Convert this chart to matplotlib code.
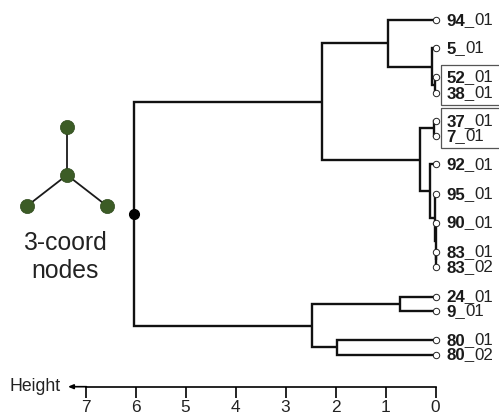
import matplotlib
matplotlib.use("Agg")
import matplotlib.pyplot as plt

plt.rcParams["font.family"] = ["Liberation Sans", "DejaVu Sans"]

# leaves, top to bottom: (bold part, regular part, row position)
leaf_ids = ["94", "5", "52", "38", "37", "7", "92", "95", "90", "83", "83", "24", "9", "80", "80"]
leaf_suffix = ["01", "01", "01", "01", "01", "01", "01", "01", "01", "01", "02", "01", "01", "01", "02"]
leaf_rows = [20, 48, 77.5, 93, 121, 136, 164.5, 194, 222.5, 252, 267, 296.5, 311, 340, 354.5]

# merges as (height, left child, right child), children are leaf indexes or merges
m_38 = (0.02, 2, 3)
m_5 = (0.08, 1, m_38)
m_94 = (0.95, 0, m_5)
m_37 = (0.03, 4, 5)
m_83 = (0.0, 9, 10)
m_90 = (0.0, 8, m_83)
m_95 = (0.02, 7, m_90)
m_92 = (0.12, 6, m_95)
m_b = (0.31, m_37, m_92)
m_top = (2.28, m_94, m_b)
m_24 = (0.71, 11, 12)
m_80 = (1.98, 13, 14)
m_bot = (2.47, m_24, m_80)
root = (6.04, m_top, m_bot)

root_dot_row = 214
height_ticks = [0, 1, 2, 3, 4, 5, 6, 7]

# small 3-coord motif, in pixels
node_x = [67, 67, 27, 107]
node_y = [175, 127, 206, 206]

W, H = 499, 415
fig = plt.figure(figsize=(W / 100, H / 100), dpi=100)

# overlay in pixel coordinates for motif and boxes
px = fig.add_axes([0, 0, 1, 1])
px.set_xlim(0, W)
px.set_ylim(H, 0)
px.axis("off")

ax = fig.add_axes([0, 0, 1, 1], facecolor="none")
ax.set_xlim(435.5 / 50, (435.5 - W) / 50)
ax.set_ylim(H, 0)


def draw(node):
    # returns height and row of a node, drawing the branches below it
    if isinstance(node, int):
        return 0.0, leaf_rows[node]
    h, a, b = node
    ha, ya = draw(a)
    hb, yb = draw(b)
    ax.plot([ha, h, h, hb], [ya, ya, yb, yb], color="#111111", lw=1.7,
            solid_joinstyle="miter", solid_capstyle="butt", zorder=2)
    return h, (ya + yb) / 2


h_root, y_root = draw(root)
ax.plot([0] * len(leaf_rows), leaf_rows, "o", ms=4.6, mfc="white", mec="#222222", mew=0.7, zorder=3)
ax.plot([h_root], [root_dot_row], "o", ms=7, color="black", zorder=3)

# leaf labels, bold id then plain suffix on the same baseline
renderer = fig.canvas.get_renderer()
for name, suffix, row in zip(leaf_ids, leaf_suffix, leaf_rows):
    t = ax.text(-0.22, row + 5, name + "_", fontsize=12.2, fontweight="bold", color="#1a1a1a",
                va="baseline", ha="left")
    wid = t.get_window_extent(renderer).width
    ax.annotate(suffix, xy=(-0.22, row + 5), xytext=(wid * 0.72, 0), textcoords="offset points",
                va="baseline", ha="left", fontsize=12.2, color="#222222")

# height axis
for s in ["top", "left", "right"]:
    ax.spines[s].set_visible(False)
ax.spines["bottom"].set_position(("data", 386.7))
ax.spines["bottom"].set_bounds(0, 7)
ax.spines["bottom"].set_linewidth(1.2)
ax.set_yticks([])
ax.set_xticks(height_ticks)
ax.tick_params(axis="x", length=8, width=1.2, pad=1.6, labelsize=12.4, labelcolor="#222222")
ax.annotate("", xy=(7.35, 386.7), xytext=(6.98, 386.7),
            arrowprops=dict(arrowstyle="-|>,head_width=0.13,head_length=0.3", lw=1.2, color="black",
                            shrinkA=0, shrinkB=0))

px.text(10, 386, "Height", fontsize=12.7, va="center", ha="left", color="#222222")

# boxes round the two label pairs
px.add_patch(plt.Rectangle((441.5, 65), 70, 40, fc="none", ec="#555555", lw=0.9))
px.add_patch(plt.Rectangle((441.5, 108), 70, 40, fc="none", ec="#555555", lw=0.9))

# motif
for x, y in zip(node_x[1:], node_y[1:]):
    px.plot([node_x[0], x], [node_y[0], y], color="#1a1a1a", lw=1.3, zorder=2)
px.plot(node_x, node_y, "o", ms=10.2, mfc="#3c5c26", mec="#2e4a1c", mew=0.5, ls="none", zorder=3)
px.text(65, 257, "3-coord\nnodes", fontsize=17.8, ha="center", va="center", linespacing=1.25, color="#222222")

fig.savefig("out.png", dpi=100)
